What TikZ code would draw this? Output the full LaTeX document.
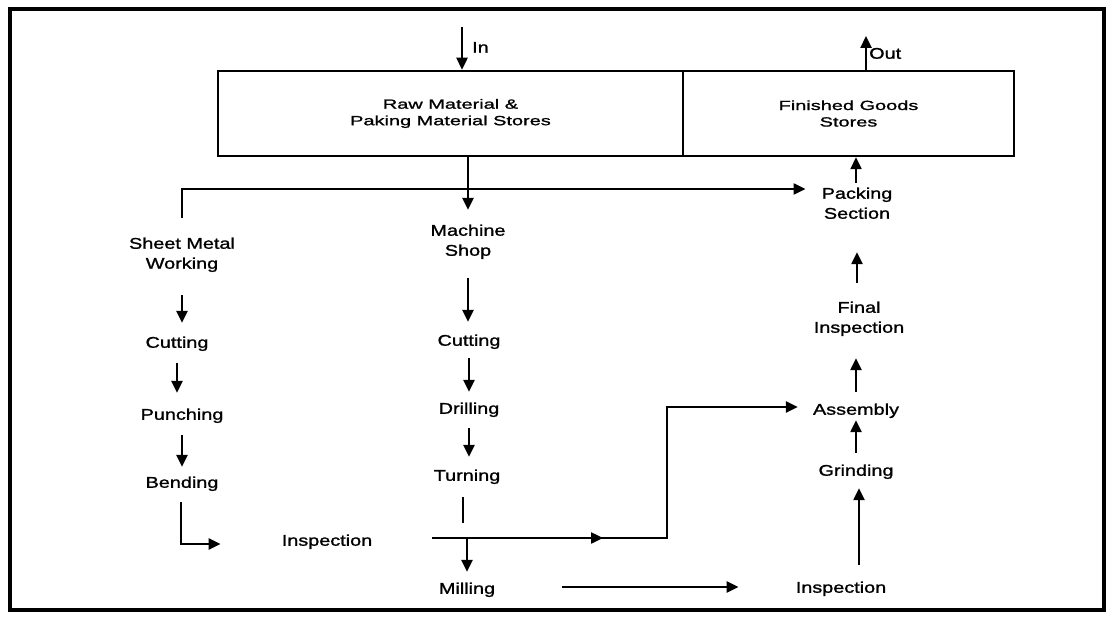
\documentclass[tikz,border=0pt]{standalone}
\usepackage{fontspec}
\setmainfont[FakeStretch=1.28,FakeBold=1.2]{Liberation Sans}
\newfontfamily\boxfont[FakeStretch=1.5,FakeBold=1.2]{Liberation Sans}
\usetikzlibrary{arrows.meta}
\begin{document}
\begin{tikzpicture}[x=1pt,y=-1pt,
  lbl/.style={font=\fontsize{15.5}{20}\selectfont, align=center, inner sep=0pt, text height=11pt, text depth=3.5pt},
  store/.style={draw, line width=2.5pt, rectangle, inner sep=0pt, minimum height=85pt, align=center, font=\boxfont\fontsize{13.3}{16.5}\selectfont},
  conn/.style={line width=2.4pt},
  arr/.style={line width=2.4pt, -{Triangle[length=12pt,width=11pt]}}
]
\useasboundingbox (0,0) rectangle (1113,620);
\draw[line width=4pt] (10,9) rectangle (1104,610);

% stores
\node[store, minimum width=465pt] (raw) at (450.5,113.5) {Raw Material \&\\Paking Material Stores};
\node[store, minimum width=331pt] (fg) at (848.5,113.5) {Finished Goods\\Stores};

% in / out
\coordinate (inT) at (462,27);
\coordinate (outT) at (866,36);
\node[lbl, anchor=west] (inlbl) at (472,49) {In};
\node[lbl, anchor=west] (outlbl) at (869,55) {Out};
\draw[arr] (inT) -- (inT |- raw.north);
\draw[arr] (outT |- fg.north) -- (outT);

% left column
\node[lbl] (smw) at (182,265) {Sheet Metal\\Working};
\node[lbl] (cutL) at (177,344) {Cutting};
\node[lbl] (punch) at (182,416) {Punching};
\node[lbl] (bend) at (182,484) {Bending};
\node[lbl] (inspL) at (327,542) {Inspection};

% middle column
\node[lbl] (ms) at (468,252) {Machine\\Shop};
\node[lbl] (cutM) at (469,342) {Cutting};
\node[lbl] (drill) at (469,410) {Drilling};
\node[lbl] (turn) at (467,477) {Turning};
\node[lbl] (mill) at (467,590) {Milling};

% right column
\node[lbl] (pack) at (857,215) {Packing\\Section};
\node[lbl] (finsp) at (859,329) {Final\\Inspection};
\node[lbl] (assy) at (856,411) {Assembly};
\node[lbl] (grind) at (856,472) {Grinding};
\node[lbl] (inspR) at (841,589) {Inspection};

\coordinate (hl) at (0,189);
\coordinate (j1) at (467,538);
\coordinate (c1) at (667,538);

% connectors
\draw[arr, shorten <=39.75pt, shorten >=16pt] (smw.north) -- (smw.north |- hl) -- (pack.west |- hl);
\draw[arr, shorten >=34.75pt] (ms.north |- raw.south) -- (ms.north);

\draw[arr, shorten <=22.75pt, shorten >=13.75pt] (smw.south) -- (smw.south |- cutL.north);
\draw[arr, shorten <=11.75pt, shorten >=15.75pt] (cutL.south) -- (cutL.south |- punch.north);
\draw[arr, shorten <=11.75pt, shorten >=9.75pt] (punch.south) -- (punch.south |- bend.north);
\draw[arr, shorten <=10.75pt, shorten >=61pt] ([xshift=-1pt]bend.south) |- (inspL.west |- 0,544);

\draw[arr, shorten <=18.75pt, shorten >=12.75pt] (ms.south) -- (ms.south |- cutM.north);
\draw[arr, shorten <=8.75pt, shorten >=10.75pt] (cutM.south) -- (cutM.south |- drill.north);
\draw[arr, shorten <=10.75pt, shorten >=12.75pt] (drill.south) -- (drill.south |- turn.north);
\draw[conn, shorten <=12.75pt, shorten >=15pt] ([xshift=-4pt]turn.south) -- ([xshift=-4pt]turn.south |- j1);

\draw[arr, shorten <=60pt, shorten >=64pt] (inspL.east |- c1) -- (c1);
\draw[arr, shorten <=60pt, shorten >=15pt] (inspL.east |- c1) -- (c1) |- (assy.west |- 0,407);
\draw[arr, shorten >=10.75pt] (j1) -- (mill.north);
\draw[arr, shorten <=66.5pt, shorten >=57pt] (mill.east |- 0,587) -- (inspR.west |- 0,587);

\draw[arr, shorten <=16.75pt, shorten >=8.75pt] ([xshift=3pt]grind.south |- inspR.north) -- ([xshift=3pt]grind.south);
\draw[arr, shorten <=11.75pt, shorten >=1.75pt] (grind.north) -- (grind.north |- assy.south);
\draw[arr, shorten <=11.75pt, shorten >=21.75pt] (assy.north) -- (assy.north |- finsp.south);
\draw[arr, shorten <=38.75pt, shorten >=29.75pt] (finsp.north -| pack) -- (pack.south);
\draw[arr, shorten <=24.75pt] (pack.north -| 856,0) -- (fg.south -| 856,0);
\end{tikzpicture}
\end{document}
